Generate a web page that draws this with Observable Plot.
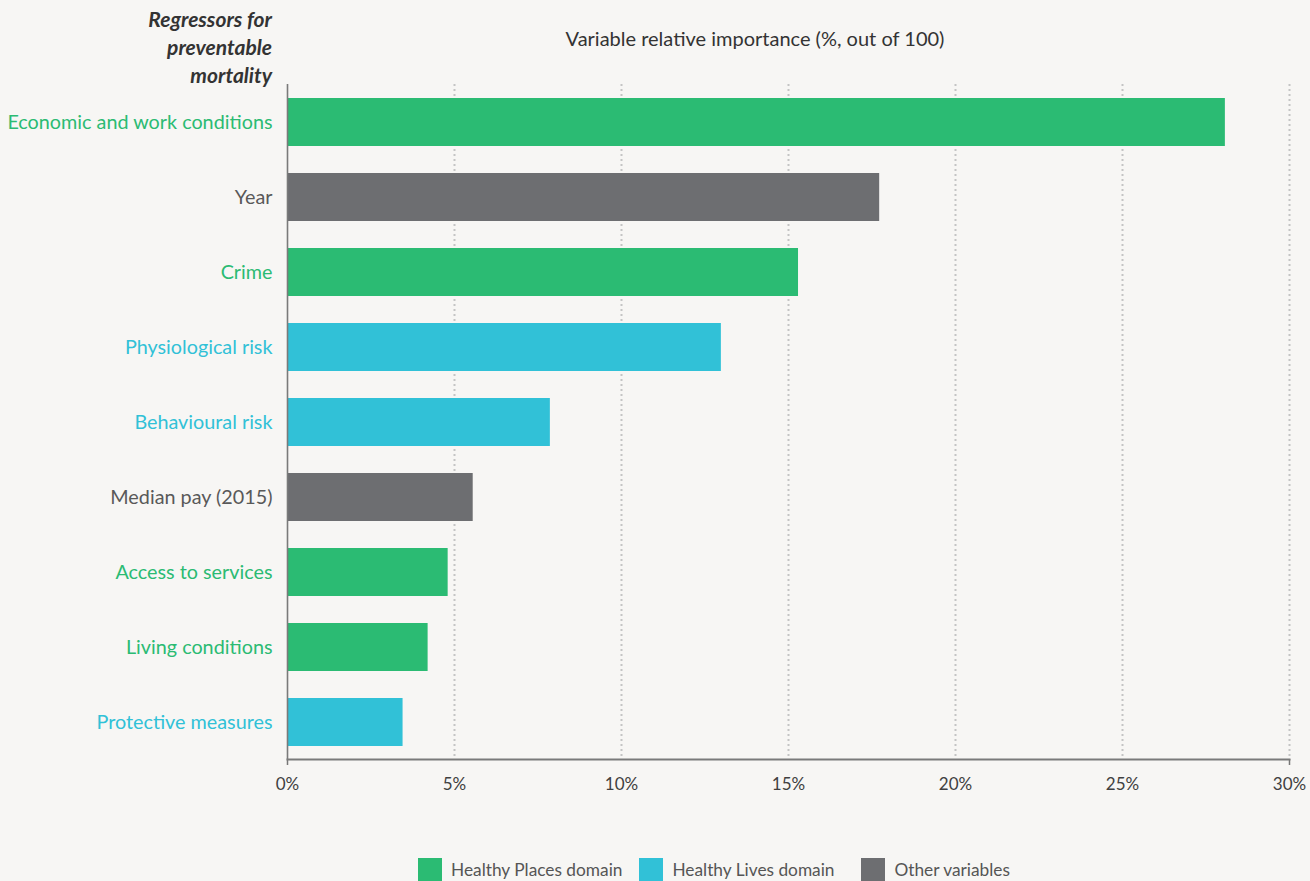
<!DOCTYPE html>
<html>
<head>
<meta charset="utf-8">
<script src="https://cdn.jsdelivr.net/npm/d3@7"></script>
<script src="https://cdn.jsdelivr.net/npm/@observablehq/plot@0.6"></script>
<style>
  html, body { margin: 0; padding: 0; background: #f7f6f4; }
  body { width: 1310px; height: 881px; position: relative; overflow: hidden; font-family: Lato, "Open Sans", sans-serif; }
  #chart { position: absolute; left: 0; top: 0; }
  .ytitle { position: absolute; right: calc(1310px - 272px); top: 5px; text-align: right; font-weight: bold; font-style: italic; font-size: 21px; line-height: 28px; color: #333; white-space: nowrap; }
  .xtitle { position: absolute; left: 0; width: 1510px; top: 26px; text-align: center; font-size: 20px; color: #333; }
  .legend { position: absolute; left: 418px; top: 858px; display: flex; font-size: 17.3px; color: #555; }
  .legend .item { display: flex; align-items: center; }
  .legend .sw { width: 24px; height: 23px; margin-right: 9px; }
</style>
</head>
<body>
<div id="chart"></div>
<div class="ytitle">Regressors for<br>preventable<br>mortality</div>
<div class="xtitle">Variable relative importance (%, out of 100)</div>
<div class="legend" id="legend"></div>
<script>
const categories = ["Economic and work conditions", "Year", "Crime", "Physiological risk", "Behavioural risk", "Median pay (2015)", "Access to services", "Living conditions", "Protective measures"];
const values = [28.08, 17.73, 15.30, 12.99, 7.87, 5.56, 4.81, 4.21, 3.46];
const groups = ["Healthy Places domain", "Other variables", "Healthy Places domain", "Healthy Lives domain", "Healthy Lives domain", "Other variables", "Healthy Places domain", "Healthy Places domain", "Healthy Lives domain"];
const groupNames = ["Healthy Places domain", "Healthy Lives domain", "Other variables"];
const groupColors = ["#2bbb73", "#31c1d7", "#6d6e71"];
const labelColors = ["#2bbb73", "#31c1d7", "#595959"];
const xTicks = [0, 5, 10, 15, 20, 25, 30];

const data = categories.map((c, i) => ({name: c, value: values[i], group: groups[i]}));
const colorOf = g => groupColors[groupNames.indexOf(g)];
const labelOf = g => labelColors[groupNames.indexOf(g)];

const plot = Plot.plot({
  width: 1310,
  height: 840,
  marginLeft: 287,
  marginRight: 21,
  marginTop: 84,
  marginBottom: 81,
  style: {background: "transparent", fontFamily: "Lato, 'Open Sans', sans-serif"},
  x: {domain: [0, 30], ticks: xTicks},
  y: {domain: categories, paddingInner: 0.36, paddingOuter: 0.18, axis: null},
  marks: [
    Plot.gridX(xTicks.slice(1), {stroke: "#c4c4c4", strokeOpacity: 1, strokeWidth: 2, strokeDasharray: "2,3"}),
    Plot.barX(data, {x: "value", y: "name", fill: d => colorOf(d.group)}),
    Plot.axisX(xTicks, {tickSize: 0, tickPadding: 18, tickFormat: d => d + "%", fontSize: 17, fill: "#404040", label: null}),
    Plot.axisX([0, 30], {tickSize: 6, tickFormat: () => "", stroke: "#777", strokeWidth: 1.5, label: null}),
    Plot.ruleX([0], {stroke: "#7a7a7a", strokeWidth: 1.6}),
    Plot.frame({anchor: "bottom", stroke: "#7a7a7a", strokeWidth: 2}),
    Plot.text(data, {y: "name", frameAnchor: "left", dx: -15, textAnchor: "end", text: "name", fontSize: 19.8, fill: d => labelOf(d.group)})
  ]
});
document.getElementById("chart").appendChild(plot);

const legend = document.getElementById("legend");
const gaps = [17, 27, 0];
groupNames.forEach((g, i) => {
  const item = document.createElement("div");
  item.className = "item";
  item.style.marginRight = gaps[i] + "px";
  const sw = document.createElement("div");
  sw.className = "sw";
  sw.style.background = groupColors[i];
  const t = document.createElement("span");
  t.textContent = g;
  item.appendChild(sw);
  item.appendChild(t);
  legend.appendChild(item);
});
</script>
</body>
</html>
